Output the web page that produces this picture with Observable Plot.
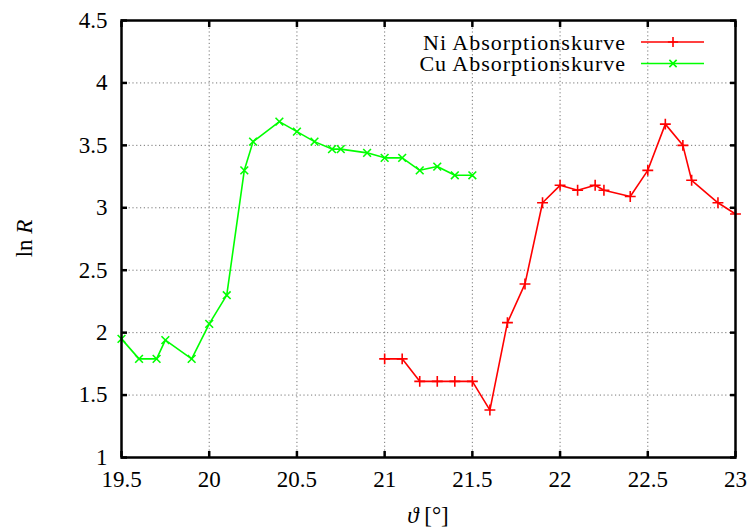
<!DOCTYPE html>
<html>
<head>
<meta charset="utf-8">
<script src="https://cdn.jsdelivr.net/npm/d3@7"></script>
<script src="https://cdn.jsdelivr.net/npm/@observablehq/plot@0.6"></script>
<style>
  html, body { margin: 0; padding: 0; background: #fff; }
  #chart { width: 750px; height: 527px; }
</style>
</head>
<body>
<div id="chart"></div>
<script>
// Ni absorption curve
const niTheta = [21.0, 21.1, 21.2, 21.3, 21.4, 21.5, 21.6, 21.7, 21.8, 21.9, 22.0, 22.1, 22.2, 22.25, 22.4, 22.5, 22.6, 22.7, 22.75, 22.9, 23.0];
const niLnR   = [1.79, 1.79, 1.61, 1.61, 1.61, 1.61, 1.38, 2.08, 2.39, 3.04, 3.18, 3.14, 3.18, 3.14, 3.09, 3.30, 3.67, 3.50, 3.22, 3.04, 2.95];
// Cu absorption curve
const cuTheta = [19.5, 19.6, 19.7, 19.75, 19.9, 20.0, 20.1, 20.2, 20.25, 20.4, 20.5, 20.6, 20.7, 20.75, 20.9, 21.0, 21.1, 21.2, 21.3, 21.4, 21.5];
const cuLnR   = [1.95, 1.79, 1.79, 1.94, 1.79, 2.07, 2.30, 3.30, 3.53, 3.69, 3.61, 3.53, 3.47, 3.47, 3.44, 3.40, 3.40, 3.30, 3.33, 3.26, 3.26];

const xTicks = [19.5, 20, 20.5, 21, 21.5, 22, 22.5, 23];
const yTicks = [1, 1.5, 2, 2.5, 3, 3.5, 4, 4.5];
const seriesNames = ["Ni Absorptionskurve", "Cu Absorptionskurve"];
const seriesColors = ["#ff0000", "#00ff00"];

const ni = niTheta.map((t, i) => ({theta: t, lnR: niLnR[i]}));
const cu = cuTheta.map((t, i) => ({theta: t, lnR: cuLnR[i]}));

const FONT = "'Liberation Serif', 'DejaVu Serif', serif";
const M = {left: 121, right: 15, top: 20, bottom: 70};

const svg = Plot.plot({
  width: 750,
  height: 527,
  marginLeft: M.left,
  marginRight: M.right,
  marginTop: M.top,
  marginBottom: M.bottom,
  style: {fontFamily: FONT, fontSize: "23px", color: "black", background: "white", overflow: "visible"},
  x: {domain: [19.5, 23], label: null},
  y: {domain: [1, 4.5], label: null},
  marks: [
    Plot.gridX(xTicks, {stroke: "#777", strokeOpacity: 1, strokeWidth: 1, strokeDasharray: "1.2,2.6"}),
    Plot.gridY(yTicks, {stroke: "#777", strokeOpacity: 1, strokeWidth: 1, strokeDasharray: "1.2,2.6"}),
    Plot.line(cu, {x: "theta", y: "lnR", stroke: seriesColors[1], strokeWidth: 1.6}),
    Plot.dot(cu, {x: "theta", y: "lnR", symbol: "times", stroke: seriesColors[1], strokeWidth: 1.6, r: 3.6}),
    Plot.line(ni, {x: "theta", y: "lnR", stroke: seriesColors[0], strokeWidth: 1.6}),
    Plot.dot(ni, {x: "theta", y: "lnR", symbol: "plus", stroke: seriesColors[0], strokeWidth: 1.6, r: 3.6}),
    Plot.frame({stroke: "black", strokeWidth: 2.5}),
    Plot.axisX(xTicks, {anchor: "bottom", tickSize: -6, tickPadding: 19, strokeWidth: 2.5, fontSize: 23, tickFormat: d => String(d), label: null}),
    Plot.axisX(xTicks, {anchor: "top", tickSize: -6, strokeWidth: 2.5, tickFormat: () => "", label: null}),
    Plot.axisY(yTicks, {anchor: "left", tickSize: -6, tickPadding: 20, strokeWidth: 2.5, fontSize: 23, tickFormat: d => String(d), label: null}),
    Plot.axisY(yTicks, {anchor: "right", tickSize: -6, strokeWidth: 2.5, tickFormat: () => "", label: null})
  ]
});

document.getElementById("chart").appendChild(svg);

const s = d3.select(svg);
const plotW = 750 - M.left - M.right;
const plotH = 527 - M.top - M.bottom;

// Axis titles
const yl = s.append("text")
  .attr("transform", `translate(24,${M.top + plotH / 2}) rotate(-90)`)
  .attr("text-anchor", "middle").attr("dominant-baseline", "central")
  .attr("font-size", 23).attr("fill", "black");
yl.append("tspan").text("ln ");
yl.append("tspan").attr("font-style", "italic").text("R");

const xl = s.append("text")
  .attr("x", M.left + plotW / 2).attr("y", 515)
  .attr("text-anchor", "middle").attr("dominant-baseline", "central")
  .attr("font-size", 23).attr("fill", "black");
xl.append("tspan").attr("font-style", "italic").text("ϑ");
xl.append("tspan").text(" [°]");

// Legend (top right, inside frame)
const symbols = [d3.symbolPlus, d3.symbolTimes];
seriesNames.forEach((name, i) => {
  const cy = 42 + i * 21.5;
  const g = s.append("g");
  g.append("text")
    .attr("x", 626).attr("y", cy)
    .attr("text-anchor", "end").attr("dominant-baseline", "central")
    .attr("font-size", 22).attr("fill", "black")
    .attr("letter-spacing", "1")
    .text(name);
  g.append("line")
    .attr("x1", 641).attr("x2", 704).attr("y1", cy).attr("y2", cy)
    .attr("stroke", seriesColors[i]).attr("stroke-width", 1.6);
  g.append("path")
    .attr("transform", `translate(673,${cy})`)
    .attr("d", d3.symbol(symbols[i], 36)())
    .attr("fill", "none").attr("stroke", seriesColors[i]).attr("stroke-width", 1.6);
});

// Force serif font on every text (inline style beats Plot's generated class styles)
s.selectAll("text").style("font-family", FONT).style("font-variant", "normal");
s.selectAll("tspan").style("font-family", FONT);
</script>
</body>
</html>
